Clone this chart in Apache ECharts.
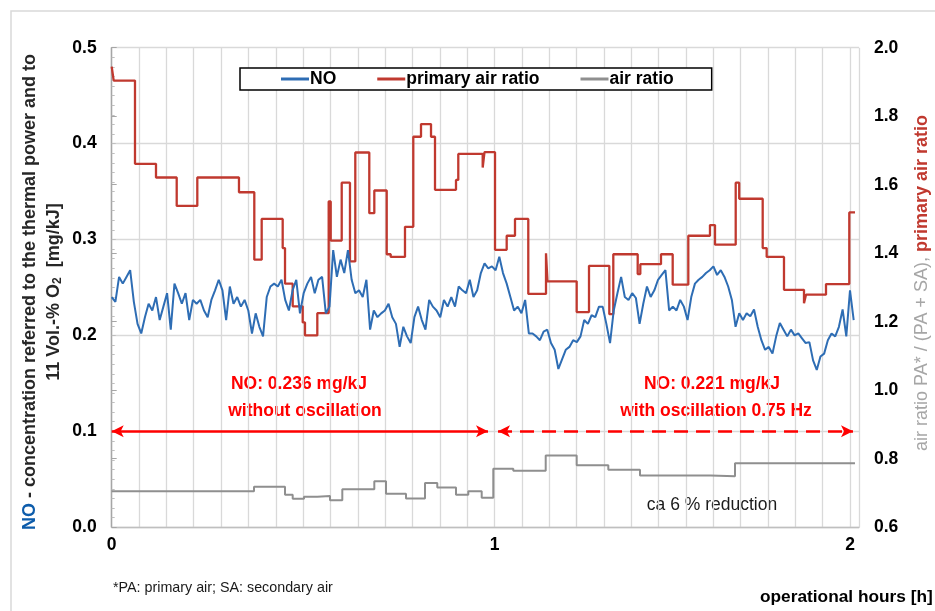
<!DOCTYPE html>
<html><head><meta charset="utf-8">
<script src="https://cdn.jsdelivr.net/npm/echarts@6/dist/echarts.min.js"></script>
<style>html,body{margin:0;padding:0;background:#fff}#c{width:935px;height:611px}</style>
</head><body><div id="c"></div>
<script>
// ---- data ----
const noStepHour = 0.01;
const noValues = [
0.240,0.235,0.261,0.254,0.261,0.268,0.235,0.212,0.202,0.219,
0.233,0.226,0.240,0.216,0.230,0.244,0.206,0.254,0.244,0.233,
0.244,0.216,0.237,0.233,0.237,0.226,0.219,0.237,0.247,0.258,
0.247,0.216,0.251,0.233,0.240,0.230,0.237,0.226,0.202,0.223,
0.209,0.199,0.240,0.251,0.254,0.251,0.258,0.237,0.226,0.247,
0.258,0.223,0.244,0.254,0.261,0.244,0.258,0.261,0.223,0.230,
0.289,0.261,0.279,0.265,0.289,0.258,0.244,0.247,0.240,0.258,
0.206,0.226,0.219,0.223,0.226,0.233,0.219,0.212,0.188,0.209,
0.199,0.192,0.219,0.230,0.216,0.206,0.237,0.230,0.226,0.219,
0.237,0.230,0.240,0.230,0.251,0.247,0.244,0.258,0.240,0.247,
0.265,0.275,0.270,0.272,0.268,0.282,0.265,0.254,0.240,0.226,
0.230,0.223,0.237,0.202,0.202,0.199,0.195,0.204,0.206,0.192,
0.185,0.165,0.175,0.185,0.188,0.195,0.193,0.199,0.216,0.212,
0.221,0.219,0.230,0.230,0.212,0.192,0.226,0.244,0.261,0.240,
0.237,0.244,0.239,0.212,0.233,0.251,0.240,0.247,0.258,0.263,
0.268,0.226,0.230,0.226,0.237,0.230,0.216,0.240,0.254,0.258,
0.261,0.265,0.268,0.272,0.263,0.268,0.261,0.251,0.237,0.209,
0.223,0.216,0.223,0.220,0.227,0.209,0.195,0.185,0.188,0.181,
0.199,0.213,0.206,0.199,0.206,0.200,0.202,0.197,0.192,0.193,
0.174,0.164,0.178,0.181,0.195,0.202,0.199,0.209,0.227,0.199,
0.247,0.216];
const noHours = noValues.map((_, i) => i * noStepHour);

const paHours = [0,0.0054,0.0631,0.1200,0.1761,0.2319,0.3448,0.3863,0.4063,0.4632,0.4695,0.4903,0.5174,0.5236,0.5570,0.5878,0.5933,0.6231,0.6455,0.6599,0.6978,0.7114,0.7450,0.7558,0.7945,0.8170,0.8379,0.8650,0.8758,0.9327,0.9389,1.0050,1.0099,1.0384,1.0700,1.0925,1.1285,1.1765,1.1805,1.2596,1.2930,1.3480,1.3588,1.4249,1.4320,1.4880,1.5197,1.5620,1.6207,1.6343,1.6904,1.6999,1.7635,1.7743,1.8212,1.8754,1.8808,1.9350,1.9981,2.0136];
const paValues = [1.945,1.904,1.661,1.621,1.538,1.621,1.578,1.381,1.500,1.415,1.311,1.245,1.198,1.160,1.225,1.551,1.437,1.606,1.376,1.694,1.517,1.583,1.397,1.389,1.477,1.740,1.777,1.740,1.585,1.614,1.690,1.650,1.695,1.410,1.451,1.500,1.281,1.400,1.318,1.228,1.363,1.222,1.397,1.339,1.368,1.397,1.308,1.451,1.482,1.425,1.606,1.559,1.415,1.389,1.293,1.254,1.279,1.310,1.519,1.519];

const arHours = [0,0.3855,0.4695,0.4903,0.5209,0.5570,0.5914,0.6247,0.7114,0.7431,0.7972,0.8487,0.8820,0.9327,0.9660,1.0023,1.0337,1.0879,1.1757,1.2596,1.3453,1.4311,1.6226,1.6885,2.0135];
const arValues = [0.705,0.718,0.695,0.683,0.689,0.691,0.679,0.711,0.734,0.698,0.684,0.729,0.716,0.695,0.705,0.686,0.771,0.765,0.809,0.781,0.768,0.751,0.749,0.787,0.786];

// x axis: 27 grid divisions span 0..2 h; labels sit on grid lines 0, 14, 27
const xGridCount = 27, xHoursAtLastGrid = 2;
const xLabelGrid = [0, 14, 27];
const xLabelText = ['0', '1', '2'];
const xMaxHours = 2.0244;

const periodStart = [0, 1.0465];
const periodEnd = [1.0194, 2.0081];
const arrowLevel = 0.1;

const seriesNames = ['NO', 'primary air ratio', 'air ratio'];
// ---- styles ----
const BLUE = '#2e6db4', RED = '#c0392f', GRAY = '#8f8f8f';
const FONT = 'Liberation Sans, Arial, sans-serif';
const FS = 17.5;

const chart = echarts.init(document.getElementById('c'), null, {renderer: 'canvas'});
const zip = (a, b) => a.map((v, i) => [v, b[i]]);
const gridMax = xMaxHours * xGridCount / xHoursAtLastGrid;

chart.setOption({
  animation: false,
  backgroundColor: '#fff',
  textStyle: {fontFamily: FONT},
  grid: {left: 111.7, right: 76, top: 47.7, bottom: 83.8, containLabel: false},
  legend: {
    data: seriesNames, left: 240, top: 68,
    backgroundColor: '#fff', borderColor: '#000', borderWidth: 1.5, borderRadius: 0,
    padding: [2, 38, 2, 41], itemGap: 41, itemWidth: 28, itemHeight: 3,
    icon: 'rect',
    textStyle: {fontFamily: FONT, fontWeight: 'bold', fontSize: FS, color: '#000', padding: [0, 0, 0, -4]}
  },
  xAxis: [
    {type: 'value', min: 0, max: xMaxHours, show: false, position: 'top',
     splitLine: {show: false}, axisLine: {show: false}, axisTick: {show: false}, axisLabel: {show: false}},
    {type: 'value', min: 0, max: gridMax, interval: 1, position: 'bottom',
     axisLine: {show: true, onZero: false, lineStyle: {color: '#bfbfbf', width: 1.3}},
     axisTick: {show: false},
     splitLine: {show: true, lineStyle: {color: '#d9d9d9', width: 1.3}},
     axisLabel: {
       margin: 9, fontFamily: FONT, fontWeight: 'bold', fontSize: FS, color: '#000',
       formatter: v => { const k = xLabelGrid.indexOf(Math.round(v)); return (k >= 0 && Math.abs(v - Math.round(v)) < 1e-6) ? xLabelText[k] : ''; }
     }}
  ],
  yAxis: [
    {type: 'value', min: 0, max: 0.5, interval: 0.1, position: 'left',
     axisLine: {show: true, lineStyle: {color: '#bfbfbf', width: 1.3}},
     axisTick: {show: true, inside: true, length: 4, lineStyle: {color: '#bfbfbf'}},
     minorTick: {show: true, splitNumber: 10, length: 3, lineStyle: {color: '#bfbfbf'}},
     splitLine: {show: true, lineStyle: {color: '#d9d9d9', width: 1.3}},
     axisLabel: {margin: 15, fontFamily: FONT, fontWeight: 'bold', fontSize: FS, color: '#000', formatter: v => v.toFixed(1)}},
    {type: 'value', min: 0.6, max: 2.0, interval: 0.2, position: 'right',
     axisLine: {show: true, lineStyle: {color: '#a6a6a6', width: 1.3}},
     axisTick: {show: true, inside: false, length: 5, lineStyle: {color: '#a6a6a6'}},
     splitLine: {show: false},
     axisLabel: {margin: 15, fontFamily: FONT, fontWeight: 'bold', fontSize: FS, color: '#000', formatter: v => v.toFixed(1)}}
  ],
  series: [
    {name: seriesNames[0], type: 'line', xAxisIndex: 0, yAxisIndex: 0, z: 4, showSymbol: false, symbol: 'none',
     data: zip(noHours, noValues), itemStyle: {color: BLUE}, lineStyle: {color: BLUE, width: 2},
     markLine: {silent: true, symbol: ['arrow', 'arrow'], symbolSize: [9, 12], label: {show: false},
       data: [
         [{coord: [periodStart[0], arrowLevel], lineStyle: {color: '#ff0000', width: 2.5, type: 'solid'}}, {coord: [periodEnd[0], arrowLevel]}],
         [{coord: [periodStart[1], arrowLevel], lineStyle: {color: '#ff0000', width: 2.5, type: [14, 8]}}, {coord: [periodEnd[1], arrowLevel]}]
       ]}},
    {name: seriesNames[1], type: 'line', xAxisIndex: 0, yAxisIndex: 1, z: 3, step: 'end', showSymbol: false, symbol: 'none',
     data: zip(paHours, paValues), itemStyle: {color: RED}, lineStyle: {color: RED, width: 2.3}},
    {name: seriesNames[2], type: 'line', xAxisIndex: 0, yAxisIndex: 1, z: 2, step: 'end', showSymbol: false, symbol: 'none',
     data: zip(arHours, arValues), itemStyle: {color: GRAY}, lineStyle: {color: GRAY, width: 2}}
  ],
  graphic: [
    {type: 'rect', shape: {x: 11, y: 11, width: 940, height: 620}, style: {fill: 'none', stroke: '#d9d9d9', lineWidth: 1.5}, silent: true, z: -10},
    {type: 'text', x: 30, y: 292, rotation: Math.PI / 2, silent: true,
     style: {text: '{b|NO}{k| - concentration referred to the thermal power and to}', align: 'center', verticalAlign: 'middle',
       rich: {b: {fontFamily: FONT, fontWeight: 'bold', fontSize: 18, fill: '#0d5cab', color: '#0d5cab'},
              k: {fontFamily: FONT, fontWeight: 'bold', fontSize: 18, fill: '#262626', color: '#262626'}}}},
    {type: 'text', x: 54, y: 292, rotation: Math.PI / 2, silent: true,
     style: {text: '{k|11 Vol.-% O}{s|2}{k|  [mg/kJ]}', align: 'center', verticalAlign: 'middle',
       rich: {k: {fontFamily: FONT, fontWeight: 'bold', fontSize: 18, fill: '#262626', color: '#262626'},
              s: {fontFamily: FONT, fontWeight: 'bold', fontSize: 12, fill: '#262626', color: '#262626', verticalAlign: 'bottom', padding: [7, 0, 0, 0]}}}},
    {type: 'text', x: 922, y: 283, rotation: Math.PI / 2, silent: true,
     style: {text: '{g|air ratio PA* / (PA + SA), }{r|primary air ratio}', align: 'center', verticalAlign: 'middle',
       rich: {g: {fontFamily: FONT, fontSize: 18, fill: '#a6a6a6', color: '#a6a6a6'},
              r: {fontFamily: FONT, fontWeight: 'bold', fontSize: 18, fill: '#c0392f', color: '#c0392f'}}}},
    {type: 'text', x: 299, y: 384, silent: true, style: {text: 'NO: 0.236 mg/kJ', font: 'bold 17.5px ' + FONT, fill: '#ff0000', align: 'center', verticalAlign: 'middle'}},
    {type: 'text', x: 305, y: 411, silent: true, style: {text: 'without oscillation', font: 'bold 17.5px ' + FONT, fill: '#ff0000', align: 'center', verticalAlign: 'middle'}},
    {type: 'text', x: 712, y: 384, silent: true, style: {text: 'NO: 0.221 mg/kJ', font: 'bold 17.5px ' + FONT, fill: '#ff0000', align: 'center', verticalAlign: 'middle'}},
    {type: 'text', x: 716, y: 411, silent: true, style: {text: 'with oscillation 0.75 Hz', font: 'bold 17.5px ' + FONT, fill: '#ff0000', align: 'center', verticalAlign: 'middle'}},
    {type: 'text', x: 712, y: 505, silent: true, style: {text: 'ca 6 % reduction', font: '17.5px ' + FONT, fill: '#1a1a1a', align: 'center', verticalAlign: 'middle'}},
    {type: 'text', x: 113, y: 588, silent: true, style: {text: '*PA: primary air; SA: secondary air', font: '14.3px ' + FONT, fill: '#1a1a1a', align: 'left', verticalAlign: 'middle'}},
    {type: 'text', x: 760, y: 597, silent: true, style: {text: 'operational hours [h]', font: 'bold 17.3px ' + FONT, fill: '#000', align: 'left', verticalAlign: 'middle'}}
  ]
});
</script>
</body></html>
